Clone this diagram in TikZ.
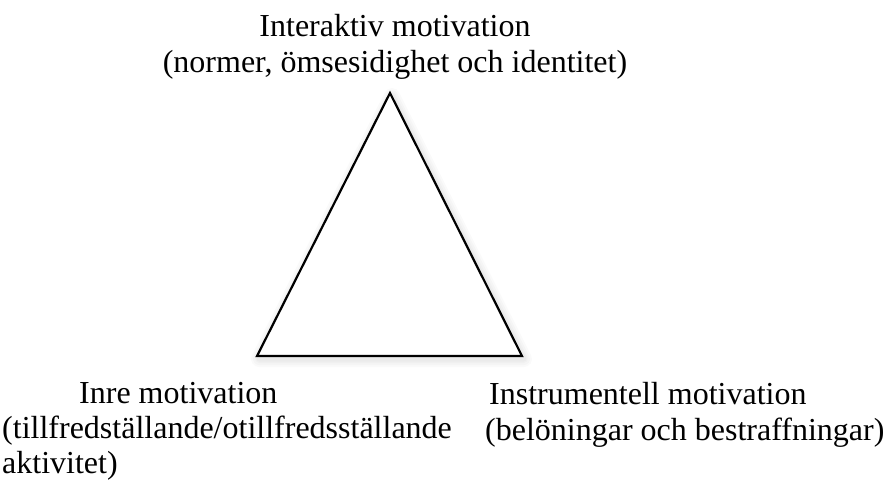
\documentclass[tikz,border=0pt]{standalone}
\usepackage{fontspec}
\setmainfont{Liberation Serif}
\begin{document}
\begin{tikzpicture}[x=1pt,y=-1pt,
  lbl/.style={inner sep=0pt, font=\fontsize{32}{36}\selectfont},
  shade/.style={draw=black, line join=round, draw opacity=0.02}]
\useasboundingbox (0,0) rectangle (888,479);
\coordinate (A) at (390,93);
\coordinate (B) at (257,356);
\coordinate (C) at (522,356);
% soft shadow
\foreach \w in {16,12,8,5}{
  \draw[shade, line width=\w pt] ([shift={(2,3)}]A) -- ([shift={(2,3)}]B) -- ([shift={(2,3)}]C) -- cycle;
}
\fill[white] (A) -- (B) -- (C) -- cycle;
\draw[line width=2.2pt, line join=miter] (A) -- (B) -- (C) -- cycle;
\node[lbl, anchor=base, align=center] (top) at (395,72)
  {Interaktiv motivation\\(normer, ömsesidighet och identitet)};
\node[lbl, font=\fontsize{32}{35}\selectfont, anchor=base west, align=left] (inre) at (2,473)
  {\hspace*{77pt}Inre motivation\\(tillfredställande/otillfredsställande\\aktivitet)};
\node[lbl, anchor=base west, align=left] (instr) at (485,440)
  {\hspace*{4pt}Instrumentell motivation\\(belöningar och bestraffningar)};
\end{tikzpicture}
\end{document}
